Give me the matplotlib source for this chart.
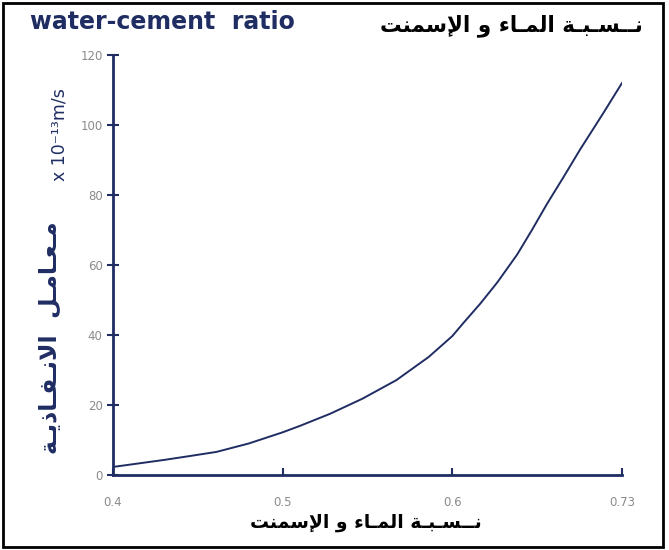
import matplotlib
matplotlib.use("Agg")
import matplotlib.pyplot as plt
from matplotlib.patches import Rectangle
import numpy as np

# ---- data ----
wc_ratio = [0.400, 0.415, 0.430, 0.445, 0.461, 0.480, 0.500, 0.510, 0.528, 0.547,
            0.567, 0.586, 0.600, 0.6084, 0.6215, 0.6344, 0.6497, 0.6610, 0.6726,
            0.6850, 0.6979, 0.715, 0.730]
permeability = [2.3, 3.3, 4.3, 5.4, 6.6, 9.0, 12.2, 14.0, 17.5, 21.8,
                27.1, 33.7, 39.7, 43.4, 49.0, 55.0, 63.0, 70.0, 77.5,
                85.0, 93.0, 103.0, 112.0]
x_ticks = [0.4, 0.5, 0.6, 0.73]
x_tick_labels = ["0.4", "0.5", "0.6", "0.73"]
y_ticks = [0, 20, 40, 60, 80, 100, 120]

# Arabic text, pre-shaped in presentation forms and in visual order
T = "\u0640"
title_ar_logical = ("\uFEE7" + T*2 + "\uFEB4" + T + "\uFE92" + T + "\uFE94" + " "
                    + "\uFE8D\uFEDF\uFEE4" + T + "\uFE8E\uFE80" + " "
                    + "\uFEED" + " "
                    + "\uFE8D\uFEF9\uFEB3\uFEE4\uFEE8\uFE96")
title_ar = title_ar_logical[::-1]
ylab_ar_logical = ("\uFEE3" + T + "\uFECC" + T + "\uFE8E\uFEE3" + T + "\uFEDE" + "  "
                   + "\uFE8D\uFEFB\uFEE7" + T + "\uFED4" + T + "\uFE8E\uFEAB\uFEF3" + T + "\uFE94")
ylab_ar = ylab_ar_logical[::-1]
title_en = "water-cement  ratio"
ylab_en = "x 10\u207B\u00B9\u00B3m/s"

navy = "#1f2d63"
gray = "#8a8a8a"

def fwd(x):
    x = np.asarray(x, dtype=float)
    return np.where(x <= 0.6, x, 0.6 + (x - 0.6) * (0.1 / 0.13))

def inv(y):
    y = np.asarray(y, dtype=float)
    return np.where(y <= 0.6, y, 0.6 + (y - 0.6) * (0.13 / 0.1))

fig = plt.figure(figsize=(6.69, 5.5), dpi=100)
ax = fig.add_axes([113/669, 1 - 475/550, (622 - 113)/669, (475 - 55)/550])

ax.plot(wc_ratio, permeability, color=navy, lw=1.4, solid_joinstyle="round")
ax.set_xscale("function", functions=(fwd, inv))
ax.set_xlim(0.4, 0.73)
ax.set_ylim(0, 120)
ax.set_xticks(x_ticks)
ax.set_xticklabels(x_tick_labels)
ax.set_yticks(y_ticks)
ax.xaxis.set_minor_locator(matplotlib.ticker.NullLocator())

for s in ["top", "right"]:
    ax.spines[s].set_visible(False)
for s in ["left", "bottom"]:
    ax.spines[s].set_color(navy)
    ax.spines[s].set_linewidth(2)
ax.tick_params(axis="y", direction="inout", length=9, width=1.5, color=navy,
               labelcolor=gray, labelsize=8.5, pad=3)
ax.tick_params(axis="x", direction="in", length=5, width=1.5, color=navy,
               labelcolor=gray, labelsize=8.5, pad=15)

fig.text(30/669, 1 - 22/550, title_en, color=navy, fontsize=17, fontweight="bold",
         family="DejaVu Sans", ha="left", va="center")
fig.text(643/669, 1 - 26/550, title_ar, color="black", fontsize=15.5, fontweight="bold",
         family="DejaVu Sans", ha="right", va="center")
fig.text(366/669, 1 - 522/550, title_ar, color="black", fontsize=13.5, fontweight="bold",
         family="DejaVu Sans", ha="center", va="center")
fig.text(50/669, 1 - 338/550, ylab_ar, color=navy, fontsize=17, fontweight="bold",
         family="DejaVu Sans", rotation=90, ha="center", va="center")
fig.text(59/669, 1 - 135/550, ylab_en, color=navy, fontsize=12.5,
         family="DejaVu Sans", rotation=90, ha="center", va="center")

fig.patches.append(Rectangle((3/669, 3/550), 660/669, 544/550, transform=fig.transFigure,
                             fill=False, edgecolor="black", lw=2))

fig.savefig("out.png", dpi=100)
